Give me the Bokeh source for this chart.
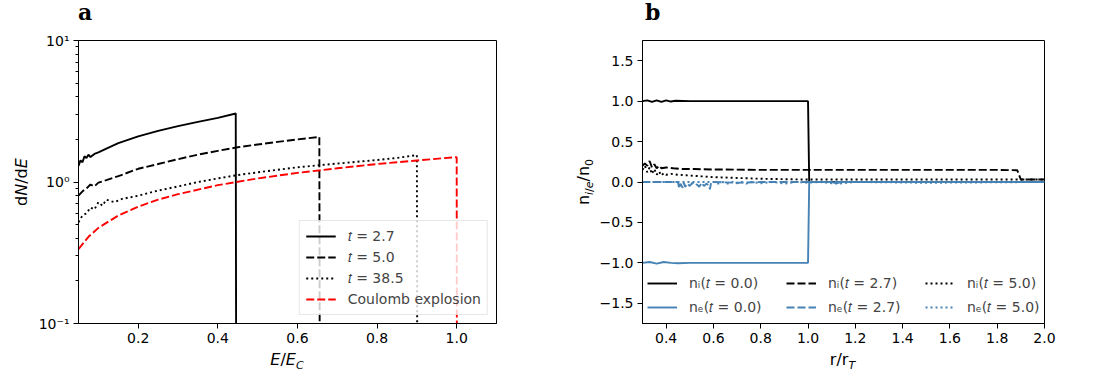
from bokeh.plotting import figure
from bokeh.layouts import row, column
from bokeh.models import (Range1d, FixedTicker, PrintfTickFormatter, CustomJSTickFormatter,
                          Legend, LegendItem, Div)
from bokeh.embed import file_html
from bokeh.resources import INLINE

FONT = "DejaVu Sans"

# ---------------- panel a data: ion energy spectra ----------------
E_t27 = [0.05, 0.055, 0.06, 0.065, 0.07, 0.075, 0.08, 0.09, 0.1, 0.12, 0.15, 0.2, 0.25, 0.3, 0.35, 0.4, 0.445, 0.447]
N_t27 = [1.30, 1.42, 1.38, 1.52, 1.48, 1.56, 1.50, 1.58, 1.62, 1.72, 1.88, 2.10, 2.30, 2.48, 2.66, 2.84, 3.05, 0.001]

E_t50 = [0.05, 0.06, 0.07, 0.08, 0.09, 0.1, 0.12, 0.15, 0.2, 0.25, 0.3, 0.35, 0.4, 0.45, 0.5, 0.55, 0.6, 0.655, 0.657]
N_t50 = [0.80, 0.86, 0.90, 0.96, 0.93, 0.99, 1.03, 1.10, 1.24, 1.34, 1.45, 1.56, 1.66, 1.76, 1.84, 1.92, 2.00, 2.08, 0.001]

E_t385 = [0.05, 0.06, 0.07, 0.08, 0.09, 0.1, 0.11, 0.12, 0.14, 0.16, 0.2, 0.25, 0.3, 0.35, 0.4, 0.45,
          0.5, 0.55, 0.6, 0.65, 0.7, 0.75, 0.8, 0.85, 0.9, 0.902]
N_t385 = [0.52, 0.58, 0.60, 0.66, 0.64, 0.72, 0.68, 0.75, 0.72, 0.76, 0.80, 0.87, 0.93, 1.00, 1.06, 1.12,
          1.17, 1.22, 1.27, 1.31, 1.35, 1.39, 1.43, 1.48, 1.55, 0.001]

E_ce = [0.05, 0.075, 0.1, 0.15, 0.2, 0.25, 0.3, 0.4, 0.5, 0.6, 0.7, 0.8, 0.9, 1.0, 1.001]
N_ce = [0.335, 0.41, 0.474, 0.58, 0.67, 0.75, 0.82, 0.95, 1.06, 1.16, 1.25, 1.34, 1.42, 1.50, 0.001]

labels_a = ["\U0001D461 = 2.7", "\U0001D461 = 5.0", "\U0001D461 = 38.5", "Coulomb explosion"]

# ---------------- panel b data: density profiles ----------------
r_i0 = [0.3, 0.32, 0.34, 0.36, 0.38, 0.40, 0.42, 0.44, 0.5, 0.6, 0.8, 1.0, 1.005, 2.0]
n_i0 = [1.0, 1.01, 0.99, 1.01, 0.99, 1.01, 0.995, 1.005, 1.0, 1.0, 1.0, 1.0, 0.0, 0.0]

r_e0 = [0.3, 0.33, 0.36, 0.39, 0.42, 0.45, 0.5, 0.6, 0.8, 1.0, 1.005, 1.1, 1.12, 1.14, 2.0]
n_e0 = [-1.0, -0.99, -1.01, -0.99, -1.0, -1.005, -1.0, -1.0, -1.0, -1.0, 0.0, 0.0, -0.015, 0.0, 0.0]

r_i27 = [0.3, 0.31, 0.32, 0.33, 0.34, 0.35, 0.36, 0.37, 0.38, 0.40, 0.43, 0.47, 0.52, 0.6, 0.8, 1.0, 1.4, 1.8, 1.885, 1.9, 2.0]
n_i27 = [0.20, 0.23, 0.20, 0.26, 0.18, 0.22, 0.17, 0.20, 0.17, 0.18, 0.17, 0.16, 0.16, 0.155, 0.15, 0.15, 0.15, 0.15, 0.145, 0.03, 0.03]

r_e27 = [0.3, 0.4, 0.45, 0.455, 0.46, 0.47, 0.475, 0.48, 0.49, 0.50, 0.51, 0.52, 0.53, 0.54, 0.55, 0.56,
         0.57, 0.58, 0.585, 0.59, 0.6, 0.7, 0.8, 1.0, 2.0]
n_e27 = [0.0, 0.0, 0.0, -0.08, -0.02, -0.07, -0.01, -0.06, -0.02, -0.05, -0.01, -0.04, -0.03, -0.06, -0.01, -0.05,
         -0.02, -0.04, -0.09, -0.01, 0.0, -0.01, 0.0, 0.0, 0.0]

r_i5 = [0.3, 0.31, 0.32, 0.33, 0.34, 0.35, 0.36, 0.37, 0.38, 0.39, 0.40, 0.42, 0.45, 0.5, 0.55, 0.6, 0.7, 0.8, 0.9, 1.0, 1.5, 2.0]
n_i5 = [0.15, 0.20, 0.12, 0.18, 0.10, 0.16, 0.09, 0.13, 0.08, 0.11, 0.09, 0.10, 0.09, 0.08, 0.07, 0.06, 0.05, 0.04, 0.035, 0.03, 0.03, 0.03]

r_e5 = [0.3, 0.6, 0.62, 0.64, 0.66, 0.68, 0.7, 0.72, 0.74, 0.76, 0.8, 0.85, 0.9, 0.95, 1.0, 1.05, 1.1, 1.13, 1.2, 1.5, 2.0]
n_e5 = [0.0, 0.0, -0.02, 0.0, -0.02, 0.0, -0.015, 0.0, -0.02, 0.0, -0.015, 0.0, -0.02, 0.0, -0.01, 0.0, -0.015, -0.02, 0.0, -0.01, 0.0]

labels_b_i = ["n\u1D62(\U0001D461 = 0.0)", "n\u1D62(\U0001D461 = 2.7)", "n\u1D62(\U0001D461 = 5.0)"]
labels_b_e = ["n\u2091(\U0001D461 = 0.0)", "n\u2091(\U0001D461 = 2.7)", "n\u2091(\U0001D461 = 5.0)"]

ticks_a_x = [0.2, 0.4, 0.6, 0.8, 1.0]
ticks_b_x = [0.4, 0.6, 0.8, 1.0, 1.2, 1.4, 1.6, 1.8, 2.0]
ticks_b_y = [-1.5, -1.0, -0.5, 0.0, 0.5, 1.0, 1.5]

BLUE = "#4682b4"
LW = 1.9
DASH = "8 3"
DOT = "2 3"

SUB = "position:relative;top:4px;font-size:11px;"
xlabel_a = f"<i>E</i>/<i>E</i><span style='{SUB}font-style:italic'>C</span>"
ylabel_a = "d<i>N</i>/d<i>E</i>"
xlabel_b = f"r/r<span style='{SUB}font-style:italic'>T</span>"
ylabel_b = f"n<span style='{SUB}'><i>i</i>/<i>e</i></span>/n<span style='{SUB}'>0</span>"


def style(p):
    p.outline_line_color = "black"
    p.outline_line_alpha = 1
    p.outline_line_width = 1
    p.grid.visible = False
    p.background_fill_color = "white"
    p.border_fill_color = "white"
    for ax in p.axis:
        ax.axis_line_color = "black"
        ax.major_tick_line_color = "black"
        ax.major_tick_out = 5
        ax.major_tick_in = 0
        ax.minor_tick_line_color = None
        ax.major_label_text_font = FONT
        ax.major_label_text_font_size = "14px"
        ax.major_label_text_color = "black"
        ax.major_label_standoff = 4


def title_div(txt, left, width):
    html = (f'<div style="padding-left:{left}px;padding-top:1.4px;font-family:\'DejaVu Serif\';'
            f'font-weight:bold;font-size:22px;line-height:22px;color:black;white-space:nowrap;">{txt}</div>')
    return Div(text=html, width=width, height=30, margin=0)


def ylab_div(html, width, height, cx, cy):
    inner = (f'<div style="width:{2 * cx}px;height:{2 * cy}px;display:flex;align-items:center;'
             f'justify-content:center;"><span style="display:inline-block;transform:rotate(-90deg);'
             f'white-space:nowrap;font-family:\'DejaVu Sans\';font-size:16px;line-height:16px;color:black;">'
             f'{html}</span></div>')
    return Div(text=inner, width=width, height=height, margin=0)


def xlab_div(html, left, framew, width):
    inner = (f'<div style="margin-left:{left}px;width:{framew}px;text-align:center;padding-top:1.5px;'
             f'font-family:\'DejaVu Sans\';font-size:16px;line-height:16px;color:black;white-space:nowrap;">'
             f'{html}</div>')
    return Div(text=inner, width=width, height=25, margin=0)


# ---------------- panel a ----------------
pa = figure(width=505, height=320, x_range=Range1d(0.05, 1.1), y_range=Range1d(0.1, 10),
            y_axis_type="log", output_backend="svg", toolbar_location=None,
            min_border_left=43, min_border_right=44, min_border_top=10, min_border_bottom=27)
style(pa)
pa.xaxis.ticker = FixedTicker(ticks=ticks_a_x)
pa.xaxis.formatter = PrintfTickFormatter(format="%.1f")
minor = [m * d for d in (0.1, 1.0) for m in range(2, 10)]
pa.yaxis.ticker = FixedTicker(ticks=[0.1, 1, 10], minor_ticks=minor)
pa.yaxis.major_label_overrides = {0.1: "10\u207B\u00B9", 1: "10\u2070", 10: "10\u00B9"}
pa.yaxis.minor_tick_line_color = "black"
pa.yaxis.minor_tick_out = 3
pa.yaxis.minor_tick_in = 0

ra1 = pa.line(E_t27, N_t27, line_color="black", line_width=LW)
ra2 = pa.line(E_t50, N_t50, line_color="black", line_width=LW, line_dash=DASH)
ra3 = pa.line(E_t385, N_t385, line_color="black", line_width=LW, line_dash=DOT)
ra4 = pa.line(E_ce, N_ce, line_color="red", line_width=LW, line_dash=DASH)

leg_a = Legend(items=[LegendItem(label=l, renderers=[r]) for l, r in zip(labels_a, [ra1, ra2, ra3, ra4])],
               location="bottom_right", margin=8, padding=6, spacing=3,
               glyph_width=30, glyph_height=18, label_height=18, label_standoff=12,
               label_text_font=FONT, label_text_font_size="14px",
               border_line_color="#d0d0d0", border_line_width=1, background_fill_alpha=0.8)
pa.add_layout(leg_a)

block_a = column(title_div("a", 78, 540),
                 row(ylab_div(ylabel_a, 35, 320, 21.5, 151.5), pa),
                 xlab_div(xlabel_a, 78, 418, 540))

# ---------------- panel b ----------------
pb = figure(width=502, height=320, x_range=Range1d(0.3, 2.0), y_range=Range1d(-1.75, 1.75),
            output_backend="svg", toolbar_location=None,
            min_border_left=45, min_border_right=54, min_border_top=10, min_border_bottom=27)
style(pb)
pb.xaxis.ticker = FixedTicker(ticks=ticks_b_x)
pb.xaxis.formatter = PrintfTickFormatter(format="%.1f")
pb.yaxis.ticker = FixedTicker(ticks=ticks_b_y)
pb.yaxis.formatter = CustomJSTickFormatter(code="return tick.toFixed(1).replace('-', '\\u2212');")

rb1 = pb.line(r_i0, n_i0, line_color="black", line_width=LW)
rb2 = pb.line(r_e0, n_e0, line_color=BLUE, line_width=LW)
rb3 = pb.line(r_i27, n_i27, line_color="black", line_width=LW, line_dash=DASH)
rb4 = pb.line(r_e27, n_e27, line_color=BLUE, line_width=LW, line_dash=DASH)
rb5 = pb.line(r_i5, n_i5, line_color="black", line_width=LW, line_dash=DOT)
rb6 = pb.line(r_e5, n_e5, line_color=BLUE, line_width=LW, line_dash=DOT)

cols = [(labels_b_i[0], rb1, labels_b_e[0], rb2), (labels_b_i[1], rb3, labels_b_e[1], rb4),
        (labels_b_i[2], rb5, labels_b_e[2], rb6)]
for k, (li, ri, le, re_) in enumerate(cols):
    lg = Legend(items=[LegendItem(label=li, renderers=[ri]), LegendItem(label=le, renderers=[re_])],
                location=(139 * k, 1), margin=0, padding=5, spacing=4,
                glyph_width=30, glyph_height=20, label_height=20, label_standoff=12,
                label_text_font=FONT, label_text_font_size="14px",
                border_line_alpha=0, background_fill_alpha=0)
    pb.add_layout(lg)

block_b = column(title_div("b", 105, 558),
                 row(ylab_div(ylabel_b, 56, 320, 45.5, 151.5), pb),
                 xlab_div(xlabel_b, 101, 403, 558))

layout = row(block_a, block_b)
open("out.html", "w").write(file_html(layout, INLINE))
